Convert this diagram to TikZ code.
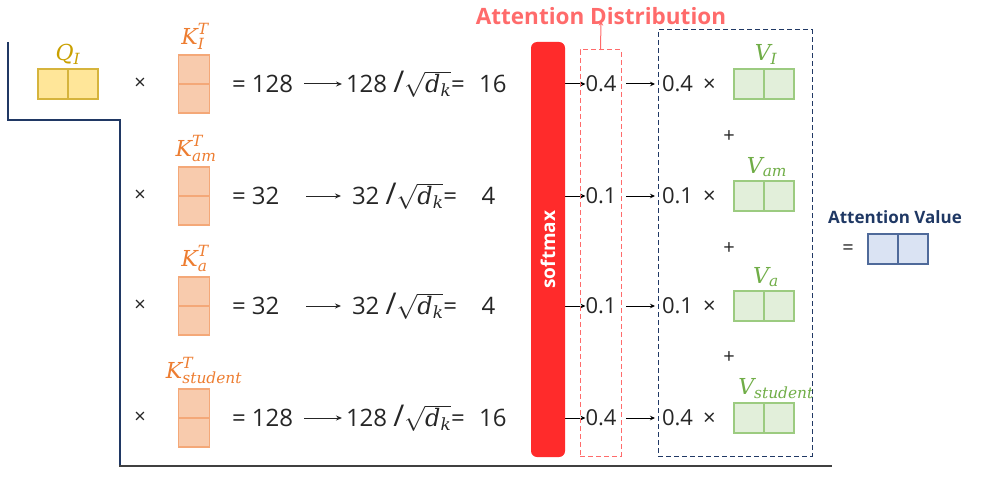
\documentclass[tikz,border=0pt]{standalone}
\usepackage{amsmath}
\usepackage{fontspec}
\setmainfont{Open Sans}
\newfontfamily\labfont{DejaVu Serif}
\usetikzlibrary{arrows.meta}
\definecolor{qfill}{HTML}{FFE699}
\definecolor{qdraw}{HTML}{D6B43C}
\definecolor{qlab}{HTML}{C9A000}
\definecolor{kfill}{HTML}{F8CBAD}
\definecolor{kdraw}{HTML}{F4A878}
\definecolor{klab}{HTML}{ED7D31}
\definecolor{vfill}{HTML}{E2EFDA}
\definecolor{vdraw}{HTML}{9CCB80}
\definecolor{vlab}{HTML}{70AD47}
\definecolor{afill}{HTML}{DAE3F3}
\definecolor{adraw}{HTML}{4F6A9A}
\definecolor{alab}{HTML}{1F3864}
\definecolor{smred}{HTML}{FF2B2B}
\definecolor{pinkc}{HTML}{FF6B6B}
\definecolor{navyc}{HTML}{203864}
\definecolor{txtc}{HTML}{262626}
\newcommand{\li}[1]{\text{\labfont\itshape #1}}
\begin{document}
\begin{tikzpicture}[x=1pt,y=-1pt,
  every node/.style={inner sep=0pt,outer sep=0pt},
  txt/.style={font=\fontsize{24}{28}\selectfont,text=txtc},
  ptxt/.style={font=\fontsize{22}{26}\selectfont,text=txtc},
  tms/.style={font=\fontsize{20}{24}\selectfont,text=txtc},
  mlab/.style={font=\fontsize{22}{26}\selectfont},
  qbox/.style={draw=qdraw,fill=qfill,line width=1.2pt,minimum width=60,minimum height=30},
  kbox/.style={draw=kdraw,fill=kfill,line width=1.2pt,minimum width=31,minimum height=58},
  vbox/.style={draw=vdraw,fill=vfill,line width=1.2pt,minimum width=60,minimum height=30},
  abox/.style={draw=adraw,fill=afill,line width=1.2pt,minimum width=60,minimum height=30},
  arr/.style={draw=txtc,line width=1pt,-{Stealth[length=6pt,width=5pt]}},
  sarr/.style={draw=black,line width=1pt,-{Stealth[length=5pt,width=4.5pt]}},
  frame/.style={draw=navyc,line width=1.4pt},
  dsh/.style={dash pattern=on 5pt off 3pt},
]
\useasboundingbox (0,0) rectangle (984,484);

% frame lines
\draw[frame] (8,42) -- (8,120) -- (120,120) -- (120,466);
\draw[draw=black!75,line width=1.6pt] (119.3,466) -- (832,466);

% Query
\node[qbox] (q) at (68,84) {};
\draw[qdraw,line width=1.2pt] (q.north) -- (q.south);
\node[mlab,text=qlab,anchor=south] (ql) at ([yshift=4pt]q.north) {$\li{Q}_{\li{I}}$};

% rows
\foreach \r/\y/\sub/\num/\sc/\wa/\wb/\ea/\pr/\kx/\vx in {
  1/84/I/128/16/304/342/346/0.4/1/2,
  2/196/am/32/\ \,4/306/341/352/0.1/2/3,
  3/306/a/32/\ \,4/306/341/352/0.1/1/2,
  4/418/student/128/16/304/342/346/0.4/10/12}{
  \node[tms] (x\r) at (140,\y) {×};
  \node[kbox] (k\r) at (194,\y) {};
  \draw[kdraw,line width=1.2pt] (k\r.west) -- (k\r.east);
  \node[mlab,text=klab,anchor=south] (kl\r) at ([yshift=5pt,xshift=\kx pt]k\r.north) {$\li{K}_{\li{\sub}}^{\li{T}}$};
  \node[txt,anchor=west] (e\r) at (232,\y) {=\ \num};
  \coordinate (aS\r) at (\wa,\y);
  \coordinate (aE\r) at (\wb,\y);
  \draw[arr] (aS\r) -- (aE\r);
  \node[txt,anchor=west] (d\r) at (\ea,\y) {\num\ {\fontsize{30}{30}\selectfont /}$\sqrt{\li{d}_{\li{k}}}$=\hspace{8pt} \sc};
  \coordinate (sA\r) at (565,\y);
  \node[ptxt] (p\r) at (601,\y) {\pr};
  \draw[sarr] (sA\r) -- (p\r.west);
  \coordinate (tA\r) at (626,\y);
  \coordinate (tB\r) at (655,\y);
  \draw[sarr] (tA\r) -- (tB\r);
  \node[ptxt,anchor=west] (w\r) at (662,\y) {\pr\hspace{10pt}×};
  \node[vbox] (v\r) at (764,\y) {};
  \draw[vdraw,line width=1.2pt] (v\r.north) -- (v\r.south);
  \node[mlab,text=vlab,anchor=south] (vl\r) at ([yshift=4pt,xshift=\vx pt]v\r.north) {$\li{V}_{\li{\sub}}$};
}

% plus signs
\node[tms] (pl1) at (729,137) {+};
\node[tms] (pl2) at (729,249) {+};
\node[tms] (pl3) at (729,358) {+};

% softmax
\node[rotate=90,fill=smred,rounded corners=6pt,minimum width=415,minimum height=34,
  text=white,font=\bfseries\fontsize{19}{22}\selectfont] (sm) at (548,249.5) {softmax};

% distribution box
\node[draw=pinkc,dsh,line width=1pt,minimum width=41,minimum height=406] (dist) at (600.5,253) {};
\node[text=pinkc,font=\bfseries\fontsize{22.5}{26}\selectfont] (dtl) at (601,16) {Attention Distribution};
\draw[pinkc,line width=1pt,-{Stealth[length=5pt,width=4.5pt]}] (dist.north) -- ([yshift=4pt]dtl.south);

% value box
\node[draw=navyc,dsh,line width=1pt,minimum width=154,minimum height=426] (vb) at (735,243) {};

% attention value
\node[text=alab,font=\bfseries\fontsize{17}{20}\selectfont] (avl) at (895,217) {Attention Value};
\node[tms] (aeq) at (848,250) {=};
\node[abox] (av) at (898,249) {};
\draw[adraw,line width=1.2pt] (av.north) -- (av.south);
\end{tikzpicture}
\end{document}
